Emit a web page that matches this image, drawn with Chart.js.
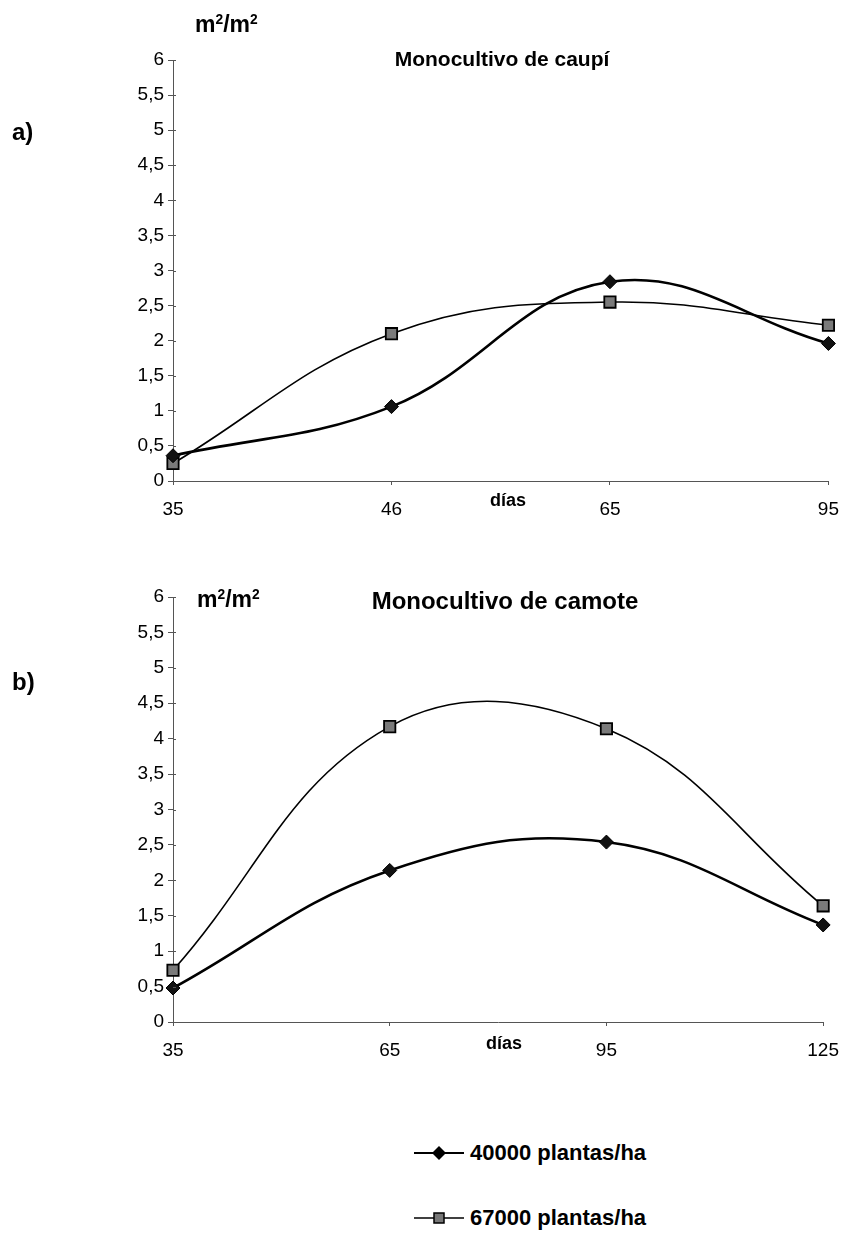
<!DOCTYPE html>
<html>
<head>
<meta charset="utf-8">
<script src="https://cdn.jsdelivr.net/npm/chart.js@4"></script>
<style>
  html, body { margin: 0; padding: 0; background: #fff; }
  body { width: 852px; height: 1236px; position: relative; overflow: hidden;
         font-family: "Liberation Sans", Arial, sans-serif; color: #000; }
  .cv { position: absolute; left: 0; width: 852px; }
  .txt { position: absolute; white-space: nowrap; line-height: 1; transform: translateY(-50%); }
  .ctr { transform: translate(-50%, -50%); }
  .b { font-weight: bold; }
  sup { font-size: 0.6em; vertical-align: 0.55em; line-height: 0; }
  .leg { position: absolute; left: 412px; height: 26px; display: flex; align-items: center;
         transform: translateY(-50%); }
  .leg span { font-weight: bold; font-size: 22px; margin-left: 4px; }
</style>
</head>
<body>
<div class="cv" style="top:0;height:540px"><canvas id="chartA" width="852" height="540"></canvas></div>
<div class="cv" style="top:540px;height:546px"><canvas id="chartB" width="852" height="546"></canvas></div>

<div class="txt b" style="left:12px;top:132px;font-size:24px">a)</div>
<div class="txt b" style="left:195px;top:24px;font-size:23px">m<sup>2</sup>/m<sup>2</sup></div>
<div class="txt b ctr" style="left:502px;top:58px;font-size:21px">Monocultivo de caupí</div>
<div class="txt b ctr" style="left:508px;top:500px;font-size:18px">días</div>

<div class="txt b" style="left:12px;top:682px;font-size:24px">b)</div>
<div class="txt b" style="left:197px;top:599px;font-size:23px">m<sup>2</sup>/m<sup>2</sup></div>
<div class="txt b ctr" style="left:505px;top:601px;font-size:24px">Monocultivo de camote</div>
<div class="txt b ctr" style="left:504px;top:1043px;font-size:18px">días</div>

<div class="leg" style="top:1153px">
  <svg width="54" height="20"><line x1="2" y1="10" x2="52" y2="10" stroke="#000" stroke-width="2"/>
    <polygon points="27,3 34,10 27,17 20,10" fill="#000"/></svg>
  <span id="legA"></span>
</div>
<div class="leg" style="top:1218px">
  <svg width="54" height="20"><line x1="2" y1="10" x2="52" y2="10" stroke="#000" stroke-width="1.5"/>
    <rect x="22" y="5" width="10" height="10" fill="#777" stroke="#000" stroke-width="1.5"/></svg>
  <span id="legB"></span>
</div>

<script>
// Days after sowing
const diasCaupi = ['35', '46', '65', '95'];
const diasCamote = ['35', '65', '95', '125'];

// Leaf area index (m²/m²)
const caupi40000 = [0.36, 1.06, 2.84, 1.96];
const caupi67000 = [0.25, 2.10, 2.55, 2.22];
const camote40000 = [0.48, 2.14, 2.54, 1.37];
const camote67000 = [0.73, 4.17, 4.14, 1.64];

const seriesNames = ['40000 plantas/ha', '67000 plantas/ha'];
const yTickLabels = ['0', '0,5', '1', '1,5', '2', '2,5', '3', '3,5', '4', '4,5', '5', '5,5', '6'];

document.getElementById('legA').textContent = seriesNames[0];
document.getElementById('legB').textContent = seriesNames[1];

Chart.defaults.font.family = '"Liberation Sans", Arial, sans-serif';
Chart.defaults.color = '#000';

// Short tick marks on the inner side of the y axis, so each tick crosses the axis line
const innerTicks = {
  id: 'innerTicks',
  afterDraw(chart) {
    const y = chart.scales.y;
    const ctx = chart.ctx;
    ctx.save();
    ctx.strokeStyle = '#555';
    ctx.lineWidth = 1;
    y.ticks.forEach(t => {
      const py = Math.round(y.getPixelForValue(t.value)) + 0.5;
      ctx.beginPath();
      ctx.moveTo(y.right, py);
      ctx.lineTo(y.right + 3, py);
      ctx.stroke();
    });
    ctx.restore();
  }
};

function makeChart(id, labels, lowDensity, highDensity, padTop, xHeight) {
  return new Chart(document.getElementById(id), {
    type: 'line',
    data: {
      labels: labels,
      datasets: [
        {
          label: seriesNames[0],
          data: lowDensity,
          borderColor: '#000',
          backgroundColor: '#000',
          borderWidth: 2.6,
          pointStyle: 'rectRot',
          pointRadius: 7,
          pointBorderColor: '#000',
          pointBackgroundColor: '#111',
          pointBorderWidth: 1,
          tension: 0.4,
          clip: false
        },
        {
          label: seriesNames[1],
          data: highDensity,
          borderColor: '#000',
          backgroundColor: '#777',
          borderWidth: 1.6,
          pointStyle: 'rect',
          pointRadius: 8,
          pointBorderColor: '#000',
          pointBackgroundColor: '#7a7a7a',
          pointBorderWidth: 1.8,
          tension: 0.4,
          clip: false
        }
      ]
    },
    options: {
      responsive: false,
      animation: false,
      events: [],
      layout: { padding: { top: padTop, right: 18, left: 0, bottom: 0 } },
      plugins: { legend: { display: false }, title: { display: false }, tooltip: { enabled: false } },
      scales: {
        x: {
          type: 'category',
          offset: false,
          afterFit: s => { s.height = xHeight; },
          border: { display: true, color: '#555', width: 1 },
          grid: { drawOnChartArea: false, drawTicks: true, tickLength: 4, color: '#555' },
          ticks: { padding: 13, font: { size: 19 }, maxRotation: 0, autoSkip: false }
        },
        y: {
          min: 0,
          max: 6,
          afterFit: s => { s.width = 173; },
          border: { display: true, color: '#555', width: 1, dash: [4, 2] },
          grid: { drawOnChartArea: false, drawTicks: true, tickLength: 5, color: '#555' },
          ticks: {
            stepSize: 0.5,
            padding: 4,
            font: { size: 19 },
            callback: (v) => yTickLabels[Math.round(v * 2)]
          }
        }
      }
    },
    plugins: [innerTicks]
  });
}

makeChart('chartA', diasCaupi, caupi40000, caupi67000, 60, 59);
makeChart('chartB', diasCamote, camote40000, camote67000, 57, 64);
</script>
</body>
</html>
